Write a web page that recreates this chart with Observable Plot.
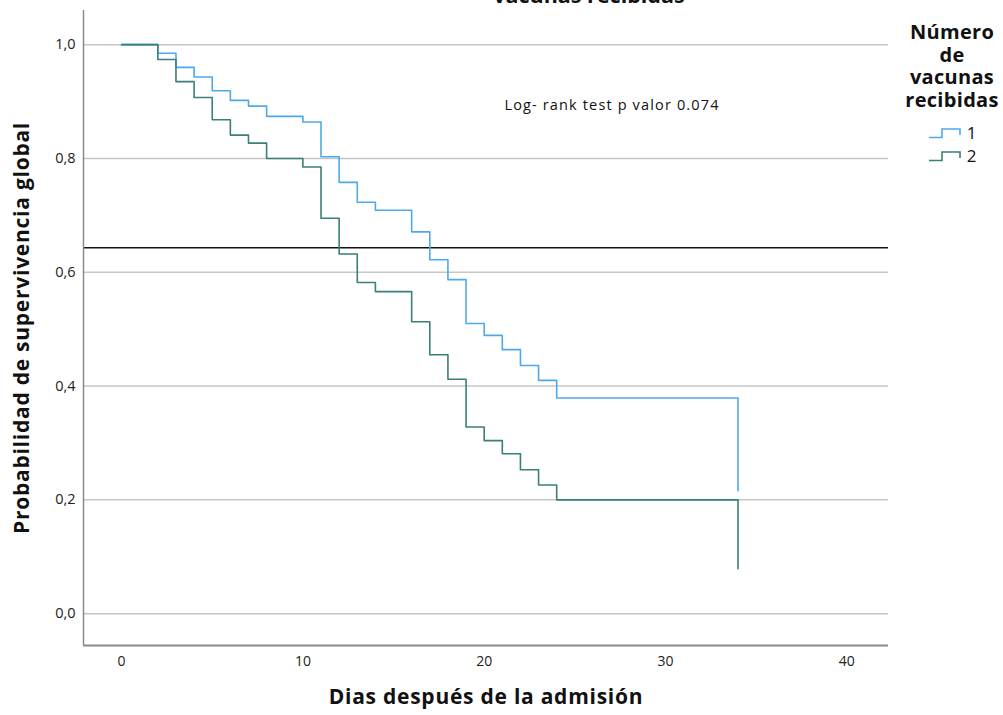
<!DOCTYPE html>
<html>
<head>
<meta charset="utf-8">
<script src="https://cdn.jsdelivr.net/npm/d3@7"></script>
<script src="https://cdn.jsdelivr.net/npm/@observablehq/plot@0.6"></script>
<style>
  html, body { margin: 0; padding: 0; background: #fff; overflow: hidden; }
  body { position: relative; width: 1003px; height: 715px; font-family: "Open Sans", sans-serif; }
  #title { position: absolute; left: 389px; width: 400px; top: -16px; text-align: center;
           font: bold 21.5px/21px "Open Sans", sans-serif; color: #111; }
  #legend { position: absolute; left: 892px; top: 21px; width: 120px; text-align: center; color: #111; }
  #legend .lt { font: bold 20px/22.5px "Open Sans", sans-serif; letter-spacing: 0.3px; }
  #legend .item { display: flex; align-items: center; justify-content: center; height: 23px;
                  font: 17px "Open Sans", sans-serif; }
  #legend svg { margin-right: 3px; }
</style>
</head>
<body>
<div id="chart"></div>
<div id="title">vacunas recibidas</div>
<div id="legend">
  <div class="lt">Número<br>de<br>vacunas<br>recibidas</div>
  <div id="items" style="margin-top:10px"></div>
</div>
<script>
// Time points (days) where the survival estimate changes
const times1 = [0, 2, 3, 4, 5, 6, 7, 8, 10, 11, 12, 13, 14, 16, 17, 18, 19, 20, 21, 22, 23, 24, 34];
const surv1  = [1.0, 0.985, 0.960, 0.943, 0.919, 0.902, 0.892, 0.874, 0.864, 0.803, 0.758, 0.723, 0.709, 0.671, 0.622, 0.587, 0.510, 0.489, 0.464, 0.436, 0.410, 0.379, 0.216];
const times2 = [0, 2, 3, 4, 5, 6, 7, 8, 10, 11, 12, 13, 14, 16, 17, 18, 19, 20, 21, 22, 23, 24, 34];
const surv2  = [1.0, 0.974, 0.935, 0.907, 0.868, 0.841, 0.827, 0.800, 0.785, 0.695, 0.632, 0.582, 0.566, 0.513, 0.455, 0.412, 0.328, 0.304, 0.281, 0.253, 0.226, 0.200, 0.079];
const groups = ["1", "2"];
const colors = ["#4ea9ea", "#3a7f78"];
const xTicks = [0, 10, 20, 30, 40];
const yTicks = [0, 0.2, 0.4, 0.6, 0.8, 1.0];
const refLine = 0.643;
const xDomain = [-2.1, 42.3];
const yDomain = [-0.056, 1.06];
const annotation = "Log- rank test p valor 0.074";
const annX = 27.05, annY = 0.893;
const xLabel = "Dias después de la admisión";
const yLabel = "Probabilidad de supervivencia global";

const data = [
  ...times1.map((t, i) => ({group: groups[0], t, s: surv1[i]})),
  ...times2.map((t, i) => ({group: groups[1], t, s: surv2[i]}))
];

const fmt = d => d.toFixed(1).replace(".", ",");

const plot = Plot.plot({
  width: 1003,
  height: 715,
  marginLeft: 83,
  marginRight: 115,
  marginTop: 10,
  marginBottom: 70,
  style: {fontFamily: "Open Sans, sans-serif", fontSize: "14px", color: "#222", background: "#fff"},
  x: {domain: xDomain, ticks: xTicks},
  y: {domain: yDomain, ticks: yTicks},
  color: {domain: groups, range: colors},
  marks: [
    Plot.ruleY(yTicks, {stroke: "#c6c6c6", strokeWidth: 1.5}),
    Plot.ruleY([refLine], {stroke: "#111", strokeWidth: 1.3}),
    Plot.ruleX([xDomain[0]], {stroke: "#8a8a8a", strokeWidth: 1.5}),
    Plot.ruleY([yDomain[0]], {stroke: "#8a8a8a", strokeWidth: 2}),
    Plot.line(data, {x: "t", y: "s", z: "group", stroke: "group", curve: "step-after", strokeWidth: 1.6}),
    Plot.axisX(xTicks, {tickSize: 0, tickPadding: 11, label: null, fontSize: 14}),
    Plot.axisY(yTicks, {tickSize: 0, tickPadding: 8, tickFormat: fmt, label: null, fontSize: 14.5}),
    Plot.text([annotation], {x: annX, y: annY, text: d => d, fontSize: 14.5, fill: "#111"}),
    Plot.text([xLabel], {frameAnchor: "bottom", lineAnchor: "middle", dy: 52, text: d => d, fontSize: 21, fontWeight: "bold", fill: "#111"}),
    Plot.text([yLabel], {frameAnchor: "left", textAnchor: "middle", lineAnchor: "middle", dx: -61, rotate: -90, text: d => d, fontSize: 21, fontWeight: "bold", fill: "#111"})
  ]
});
document.getElementById("chart").appendChild(plot);

// widen letter spacing of a few texts to match the reference's wider font
const spacing = new Map([[annotation, "1.15px"], [xLabel, "0.75px"], [yLabel, "0.75px"]]);
d3.select(plot).selectAll("text").each(function() {
  const s = spacing.get(this.textContent);
  if (s) this.style.letterSpacing = s;
});

// Legend
const items = document.getElementById("items");
groups.forEach((g, i) => {
  const div = document.createElement("div");
  div.className = "item";
  div.innerHTML = `<svg width="36" height="14"><path d="M1,11.5 H14 V3 H32 V9" fill="none" stroke="${colors[i]}" stroke-width="1.6"/></svg><span>${g}</span>`;
  items.appendChild(div);
});
</script>
</body>
</html>
